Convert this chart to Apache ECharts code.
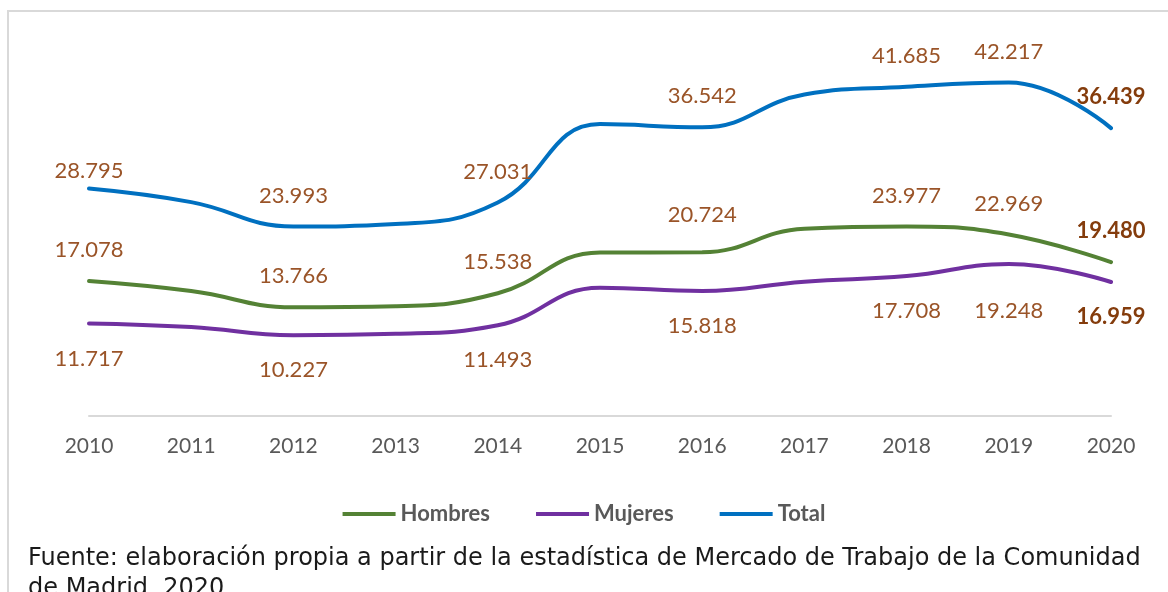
<!DOCTYPE html>
<html>
<head>
<meta charset="utf-8">
<script src="https://cdn.jsdelivr.net/npm/echarts@6/dist/echarts.min.js"></script>
<style>
  html, body { margin: 0; padding: 0; background: #fff; }
  #chart { width: 1168px; height: 592px; }
</style>
</head>
<body>
<div id="chart"></div>
<script>
// Datos (personas) por año
const years = ["2010", "2011", "2012", "2013", "2014", "2015", "2016", "2017", "2018", "2019", "2020"];
const hombres = [17078, 15810, 13766, 13900, 15538, 20700, 20724, 23700, 23977, 22969, 19480];
const mujeres = [11717, 11260, 10227, 10400, 11493, 16250, 15818, 17000, 17708, 19248, 16959];
const total   = [28795, 27070, 23993, 24300, 27031, 36950, 36542, 40700, 41685, 42217, 36439];

// años con etiqueta visible
const labeledYears = ["2010", "2012", "2014", "2016", "2018", "2019", "2020"];

const LABEL_COLOR = "#9a5428";
const LAST_COLOR = "#843c0c";
const FONT = "Lato, 'Open Sans', sans-serif";

function fmt(v) {
  return String(v).replace(/\B(?=(\d{3})+(?!\d))/g, ".");
}

// ajustes puntuales de distancia de etiqueta (como en el gráfico original)
const distOverride = {
  Total: { "2010": 7 },
  Hombres: { "2016": 26 },
  Mujeres: { "2019": 36 }
};

function buildData(name, values, position, dist) {
  return values.map((v, i) => {
    const yr = years[i];
    const isLast = i === values.length - 1;
    const d = (distOverride[name] && distOverride[name][yr]) || dist;
    return {
      value: v,
      label: {
        show: labeledYears.includes(yr),
        position: position,
        distance: d,
        fontWeight: isLast ? "bold" : "normal",
        color: isLast ? LAST_COLOR : LABEL_COLOR
      }
    };
  });
}

function makeSeries(name, values, color, position, dist) {
  return {
    name: name,
    type: "line",
    smooth: 0.45,
    symbol: "circle",
    symbolSize: 0,
    showSymbol: true,
    data: buildData(name, values, position, dist),
    lineStyle: { color: color, width: 4, cap: "round" },
    itemStyle: { color: color },
    label: {
      fontSize: 22,
      fontFamily: FONT,
      formatter: p => fmt(p.value)
    },
    z: 3
  };
}

const chart = echarts.init(document.getElementById("chart"));

chart.setOption({
  animation: false,
  backgroundColor: "#ffffff",
  grid: { left: 89, right: 57, top: 21, bottom: 176 },
  xAxis: {
    type: "category",
    data: years,
    boundaryGap: false,
    axisLine: { show: true, lineStyle: { color: "#d9d9d9", width: 2 } },
    axisTick: { show: false },
    axisLabel: { color: "#595959", fontSize: 21, fontFamily: FONT, margin: 20 },
    splitLine: { show: false }
  },
  yAxis: {
    type: "value",
    min: 0,
    max: 50000,
    show: false,
    splitLine: { show: false }
  },
  legend: {
    top: 498,
    left: "center",
    icon: "rect",
    itemWidth: 53,
    itemHeight: 4,
    itemGap: 46,
    textStyle: { color: "#595959", fontSize: 22, fontWeight: "bold", fontFamily: FONT },
    data: ["Hombres", "Mujeres", "Total"]
  },
  graphic: [
    {
      type: "rect",
      silent: true,
      shape: { x: 8, y: 11, width: 1300, height: 800 },
      style: { fill: "none", stroke: "#d9d9d9", lineWidth: 2 }
    },
    {
      type: "text",
      left: 28,
      top: 544,
      style: {
        text: "Fuente: elaboración propia a partir de la estadística de Mercado de Trabajo de la Comunidad\nde Madrid, 2020",
        fill: "#1a1a1a",
        font: "24px 'DejaVu Sans', sans-serif",
        lineHeight: 30
      }
    }
  ],
  series: [
    makeSeries("Hombres", hombres, "#548235", "top", 20),
    makeSeries("Mujeres", mujeres, "#7030a0", "bottom", 24),
    makeSeries("Total", total, "#0070c0", "top", 20)
  ]
});

window.addEventListener("resize", () => chart.resize());
</script>
</body>
</html>
